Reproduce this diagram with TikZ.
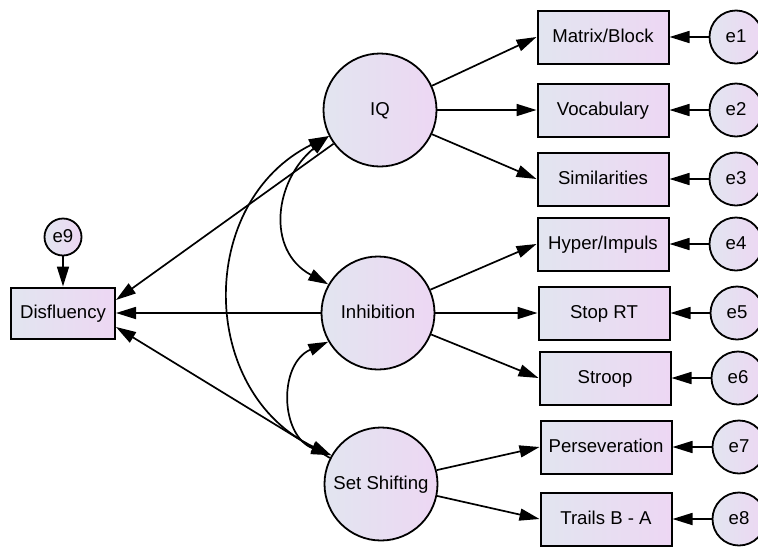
\documentclass[tikz,border=0pt]{standalone}
\usepackage{fontspec}
\setmainfont{Liberation Sans}
\usetikzlibrary{arrows.meta}
\definecolor{fillL}{HTML}{E2E5F0}
\definecolor{fillR}{HTML}{EDD7F3}
\begin{document}
\begin{tikzpicture}[x=1pt,y=-1pt,>={Triangle[length=20pt,width=12pt]},line width=1.7pt,
  font=\fontsize{18.6}{20}\selectfont,
  latent/.style={circle,draw,line width=1.8pt,left color=fillL,right color=fillR,
    minimum size=113pt,inner sep=0pt,text height=13pt,text depth=3pt},
  obsbox/.style={rectangle,draw,line width=2pt,left color=fillL,right color=fillR,
    minimum width=131pt,minimum height=53pt,inner sep=0pt,text height=13pt,text depth=3pt},
  errc/.style={circle,draw,line width=1.8pt,left color=fillL,right color=fillR,
    minimum size=53pt,inner sep=0pt,text height=13pt,text depth=3pt}]
  \useasboundingbox (0,0) rectangle (758,547);
  \clip (0,0) rectangle (758,547);

  % latent variables
  \node[latent] (IQ)  at (380,110) {IQ};
  \node[latent] (Inh) at (378,313) {Inhibition};
  \node[latent] (Set) at (381,484) {Set Shifting};

  % outcome
  \node[obsbox,minimum width=104pt,minimum height=51pt] (Dis) at (63,313) {Disfluency};
  \node[errc,minimum size=37pt] (e9) at (63,237) {e9};
  \draw[->] (e9) -- (Dis);

  % indicators with their errors
  \foreach \i/\x/\y/\txt in {1/603/37/{Matrix/Block}, 2/603/110/Vocabulary,
    3/603/179/Similarities, 4/603/244/{Hyper/Impuls}, 5/604/313/Stop RT,
    6/605/378/Stroop, 7/606/447/Perseveration, 8/606/519/Trails B - A}{
    \node[obsbox] (m\i) at (\x,\y) {\txt};
    \node[errc] (e\i) at (\x+133,\y) {e\i};
    \draw[->] (e\i) -- (m\i);
  }

  % loadings
  \draw[->] (IQ.25) -- (m1.west);
  \draw[->] (IQ) -- (m2);
  \draw[->] (IQ.335) -- (m3.west);
  \draw[->] (Inh.24) -- (m4.west);
  \draw[->] (Inh) -- (m5);
  \draw[->] (Inh.338) -- (m6.west);
  \draw[->] (Set.14) -- (m7.west);
  \draw[->] (Set.348) -- (m8.west);

  % paths to disfluency
  \draw[->] (IQ.216) -- ([yshift=13pt]Dis.east);
  \draw[->] (Inh) -- (Dis);
  \draw[->] (Set.153) -- ([yshift=-14pt]Dis.east);

  % covariances
  \draw[<->] (IQ.207) .. controls (275,180) and (265,250) .. (Inh.150);
  \draw[<->] (IQ.207) .. controls (196,202) and (198,392) .. (Set.150);
  \draw[<->] (Inh.210) .. controls (278,364) and (280,436) .. (Set.150);
\end{tikzpicture}
\end{document}
